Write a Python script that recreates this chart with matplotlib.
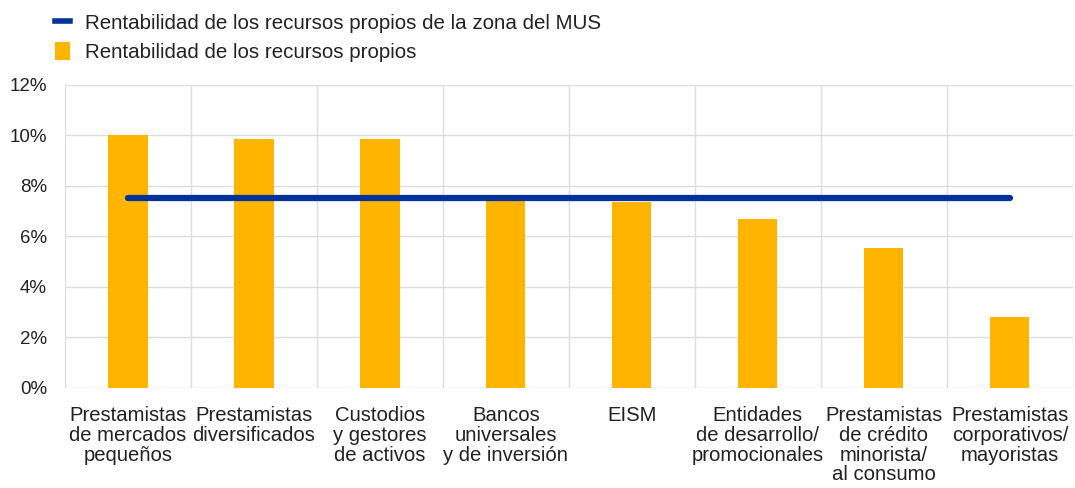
import matplotlib
matplotlib.use("Agg")
import matplotlib.pyplot as plt
from matplotlib.lines import Line2D
from matplotlib.patches import Patch
import numpy as np

plt.rcParams['font.family'] = ['Liberation Sans', 'DejaVu Sans']

categories = [
    "Prestamistas\nde mercados\npequeños",
    "Prestamistas\ndiversificados",
    "Custodios\ny gestores\nde activos",
    "Bancos\nuniversales\ny de inversión",
    "EISM",
    "Entidades\nde desarrollo/\npromocionales",
    "Prestamistas\nde crédito\nminorista/\nal consumo",
    "Prestamistas\ncorporativos/\nmayoristas",
]
roe = [10.0, 9.85, 9.85, 7.45, 7.38, 6.68, 5.53, 2.81]
ssm_roe = [7.54] * 8
yticks = [0, 2, 4, 6, 8, 10, 12]
ytick_labels = ["0%", "2%", "4%", "6%", "8%", "10%", "12%"]

BLUE = "#003299"
YELLOW = "#FFB400"
GRID = "#DDDDDD"

fig = plt.figure(figsize=(10.75, 4.88), dpi=100)
ax = fig.add_axes([0.0605, 0.205, 0.9375, 0.621])

x = np.arange(len(categories))
ax.bar(x, roe, width=0.31, color=YELLOW, zorder=2)
ax.plot(x, ssm_roe, color=BLUE, linewidth=4.5, solid_capstyle='round', zorder=3)

ax.set_xlim(-0.5, len(categories) - 0.5)
ax.set_ylim(0, 12)
ax.set_yticks(yticks)
ax.set_yticklabels(ytick_labels, fontsize=13.5)
ax.set_xticks(x)
ax.set_xticklabels(categories, linespacing=1.05, fontsize=14.6)

for yv in yticks:
    ax.axhline(yv, color=GRID, linewidth=1, zorder=0)
for b in np.arange(-0.5, len(categories), 1.0):
    ax.axvline(b, color=GRID, linewidth=1, zorder=0)

for s in ax.spines.values():
    s.set_visible(False)
ax.tick_params(axis='both', length=0, colors='#222222')
ax.tick_params(axis='y', pad=13)
ax.tick_params(axis='x', pad=13)

handles = [
    Line2D([0], [0], color=BLUE, linewidth=4),
    Patch(facecolor=YELLOW, edgecolor='none'),
]
labels = [
    "Rentabilidad de los recursos propios de la zona del MUS",
    "Rentabilidad de los recursos propios",
]
fig.legend(handles, labels, loc='upper left', bbox_to_anchor=(0.0336, 1.012),
           frameon=False, fontsize=14.8, handlelength=0.75, handleheight=0.95,
           handletextpad=0.75, labelspacing=0.45, labelcolor='#222222')

fig.savefig("out.png", dpi=100)
